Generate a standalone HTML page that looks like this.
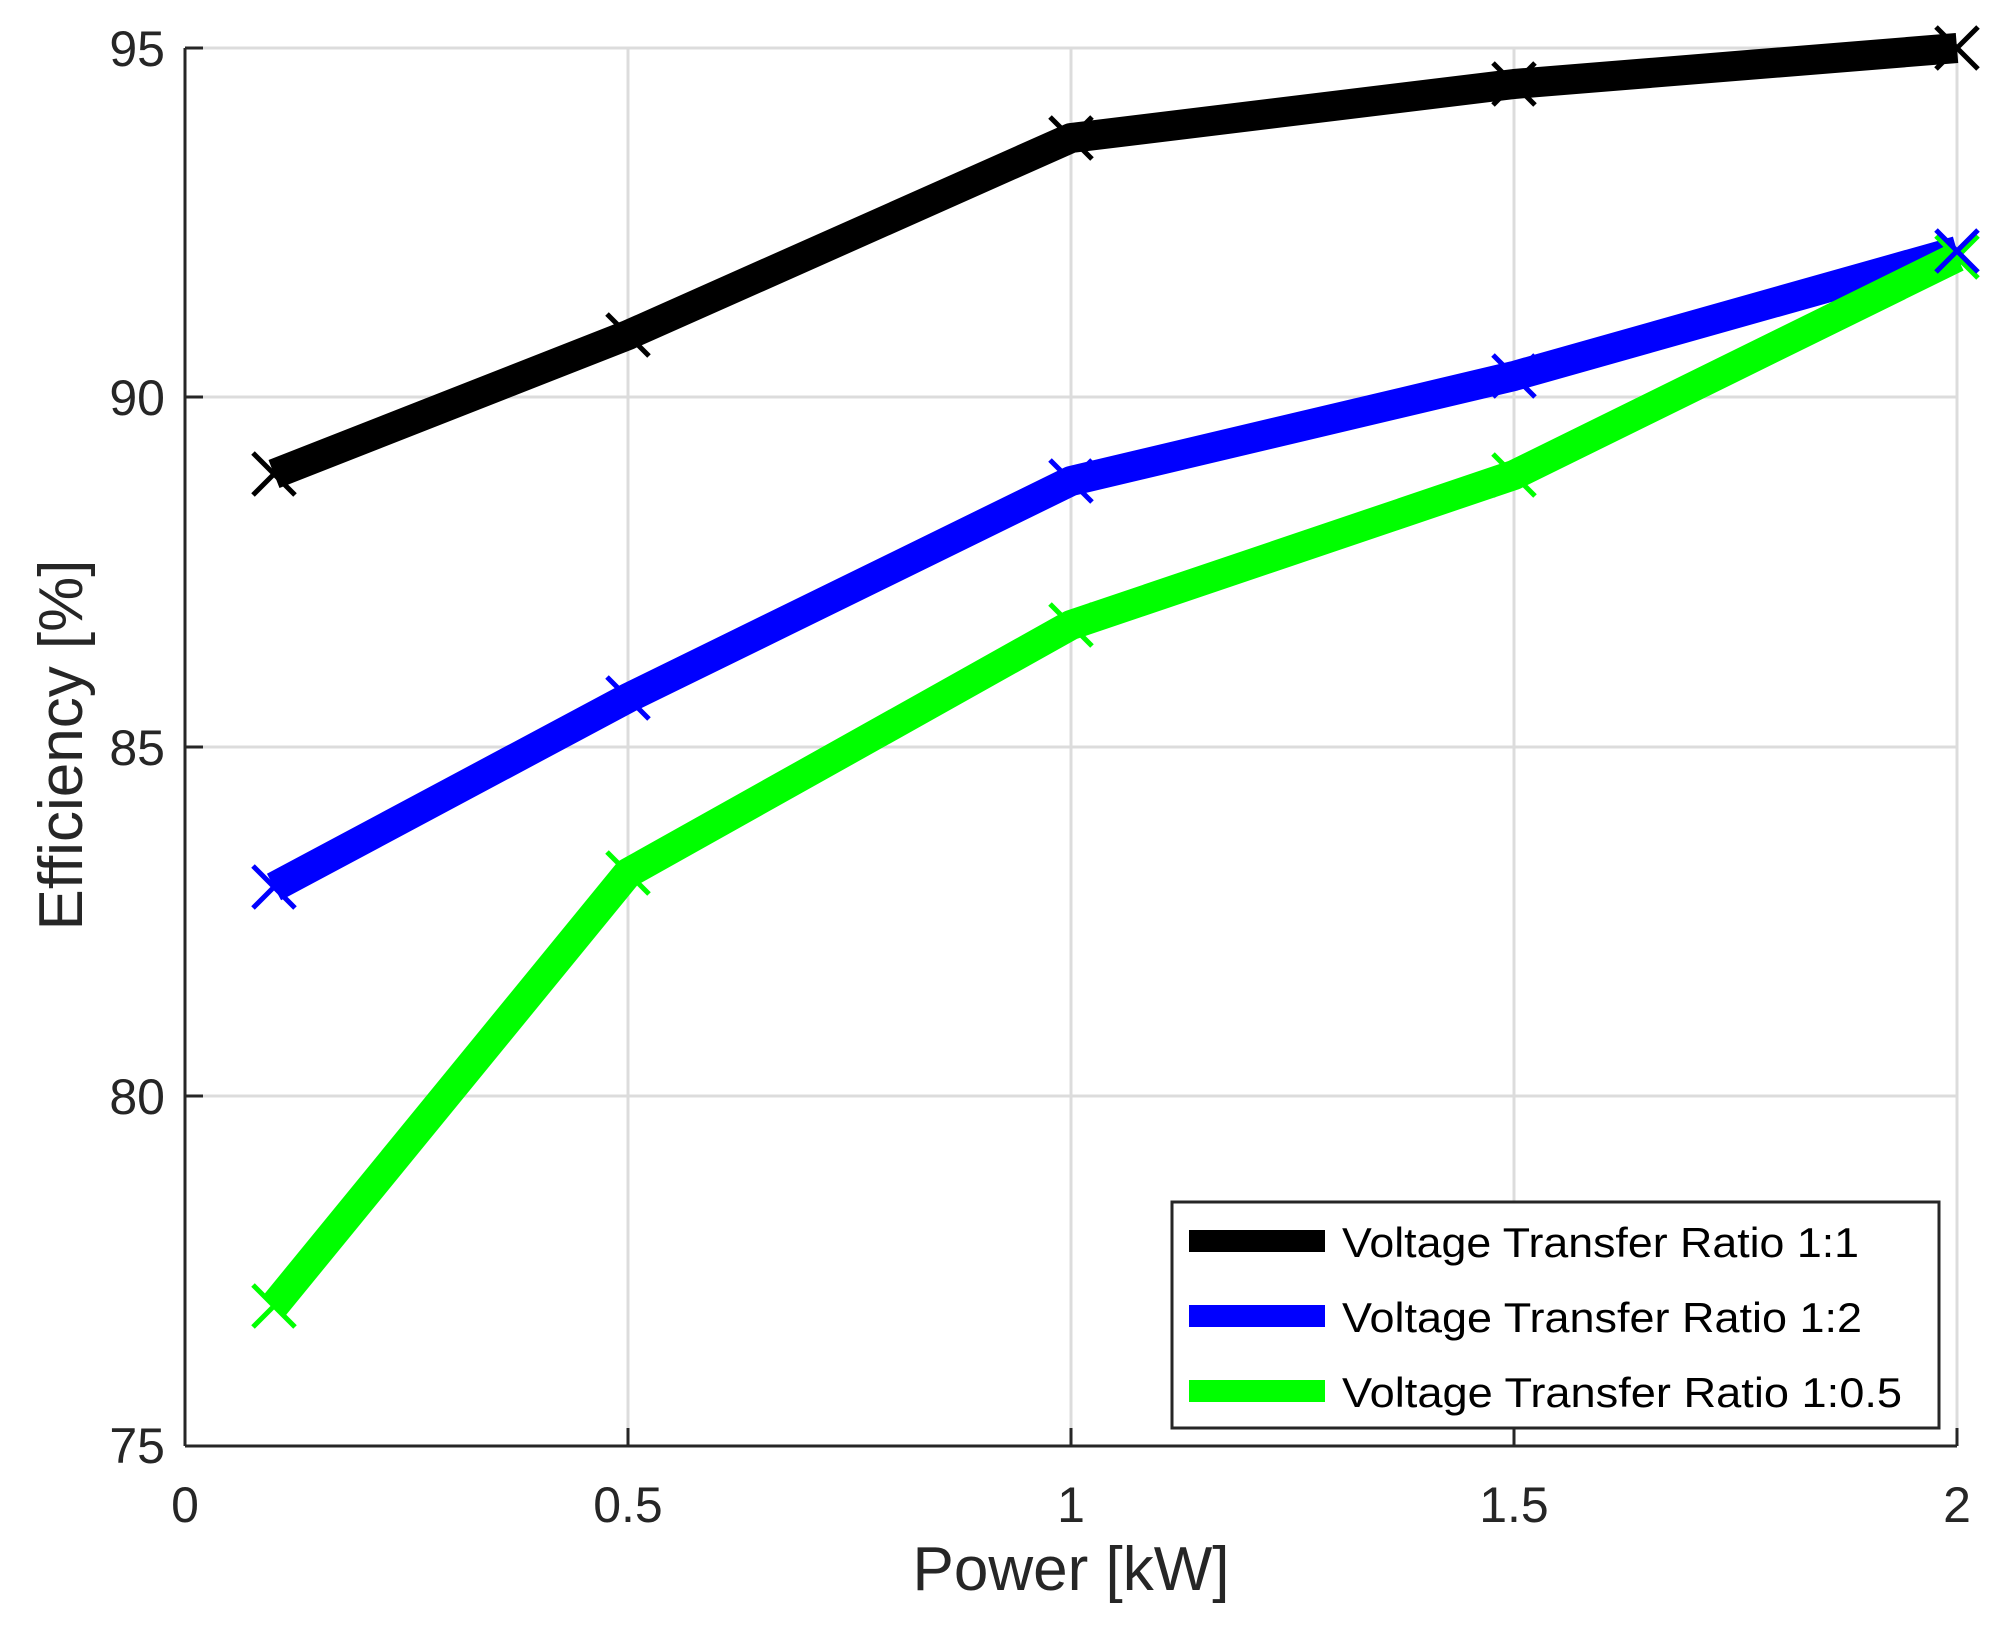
<!DOCTYPE html>
<html><head><meta charset="utf-8"><style>html,body{margin:0;padding:0;background:#fff}svg{display:block}</style></head>
<body>
<svg width="1998" height="1630" viewBox="0 0 1998 1630" xmlns="http://www.w3.org/2000/svg" font-family="Liberation Sans, sans-serif">
<rect width="1998" height="1630" fill="#fff"/>
<g stroke="#dcdcdc" stroke-width="3">
<line x1="628" y1="48" x2="628" y2="1446"/>
<line x1="1071" y1="48" x2="1071" y2="1446"/>
<line x1="1514" y1="48" x2="1514" y2="1446"/>
<line x1="1957" y1="48" x2="1957" y2="1446"/>
<line x1="185" y1="48" x2="1957" y2="48"/>
<line x1="185" y1="397" x2="1957" y2="397"/>
<line x1="185" y1="747" x2="1957" y2="747"/>
<line x1="185" y1="1096" x2="1957" y2="1096"/>
</g>
<g stroke="#262626" stroke-width="3" fill="none">
<line x1="185" y1="48" x2="185" y2="1446"/>
<line x1="185" y1="1446" x2="1957" y2="1446"/>
<line x1="185" y1="48" x2="203" y2="48"/><line x1="185" y1="397" x2="203" y2="397"/>
<line x1="185" y1="747" x2="203" y2="747"/><line x1="185" y1="1096" x2="203" y2="1096"/>
<line x1="628" y1="1446" x2="628" y2="1428"/><line x1="1071" y1="1446" x2="1071" y2="1428"/>
<line x1="1514" y1="1446" x2="1514" y2="1428"/><line x1="1957" y1="1446" x2="1957" y2="1428"/>
</g>
<g fill="#262626" font-size="50" text-anchor="end">
<text x="165" y="66">95</text><text x="165" y="415">90</text><text x="165" y="765">85</text>
<text x="165" y="1114">80</text><text x="165" y="1463">75</text>
</g>
<g fill="#262626" font-size="50" text-anchor="middle">
<text x="185" y="1522">0</text><text x="628" y="1522">0.5</text><text x="1071" y="1522">1</text>
<text x="1514" y="1522">1.5</text><text x="1957" y="1522">2</text>
</g>
<text x="1071" y="1590" font-size="62" fill="#262626" text-anchor="middle">Power [kW]</text>
<text transform="translate(82,745) rotate(-90)" font-size="62" fill="#262626" text-anchor="middle">Efficiency [%]</text>
<g fill="none" stroke-width="30" stroke-linejoin="round">
<polyline stroke="#000" points="274,474 628,335 1071,138 1514,84 1957,48"/>
<polyline stroke="#0000ff" points="274,887 628,698 1071,481 1514,376 1957,251"/>
<polyline stroke="#00ff00" points="274,1306 628,873 1071,625 1514,475 1957,257"/>
</g>
<defs><path id="m" d="M-21,-21L21,21M-21,21L21,-21" stroke-width="5"/></defs>
<g stroke="#000"><use href="#m" x="274" y="474"/><use href="#m" x="628" y="335"/><use href="#m" x="1071" y="138"/><use href="#m" x="1514" y="84"/><use href="#m" x="1957" y="48"/></g>
<g stroke="#00ff00"><use href="#m" x="274" y="1306"/><use href="#m" x="628" y="873"/><use href="#m" x="1071" y="625"/><use href="#m" x="1514" y="475"/><use href="#m" x="1957" y="257"/></g>
<g stroke="#0000ff"><use href="#m" x="274" y="887"/><use href="#m" x="628" y="698"/><use href="#m" x="1071" y="481"/><use href="#m" x="1514" y="376"/><use href="#m" x="1957" y="251"/></g>
<rect x="1172" y="1202" width="767" height="226" fill="#fff" stroke="#262626" stroke-width="3"/>
<rect x="1189" y="1230" width="136" height="22" fill="#000"/>
<rect x="1189" y="1305" width="136" height="22" fill="#0000ff"/>
<rect x="1189" y="1380" width="136" height="22" fill="#00ff00"/>
<g font-size="42" fill="#000">
<text x="1342" y="1257" textLength="517" lengthAdjust="spacingAndGlyphs">Voltage Transfer Ratio 1:1</text>
<text x="1342" y="1332" textLength="520" lengthAdjust="spacingAndGlyphs">Voltage Transfer Ratio 1:2</text>
<text x="1342" y="1407" textLength="560" lengthAdjust="spacingAndGlyphs">Voltage Transfer Ratio 1:0.5</text>
</g>
</svg>
</body></html>
